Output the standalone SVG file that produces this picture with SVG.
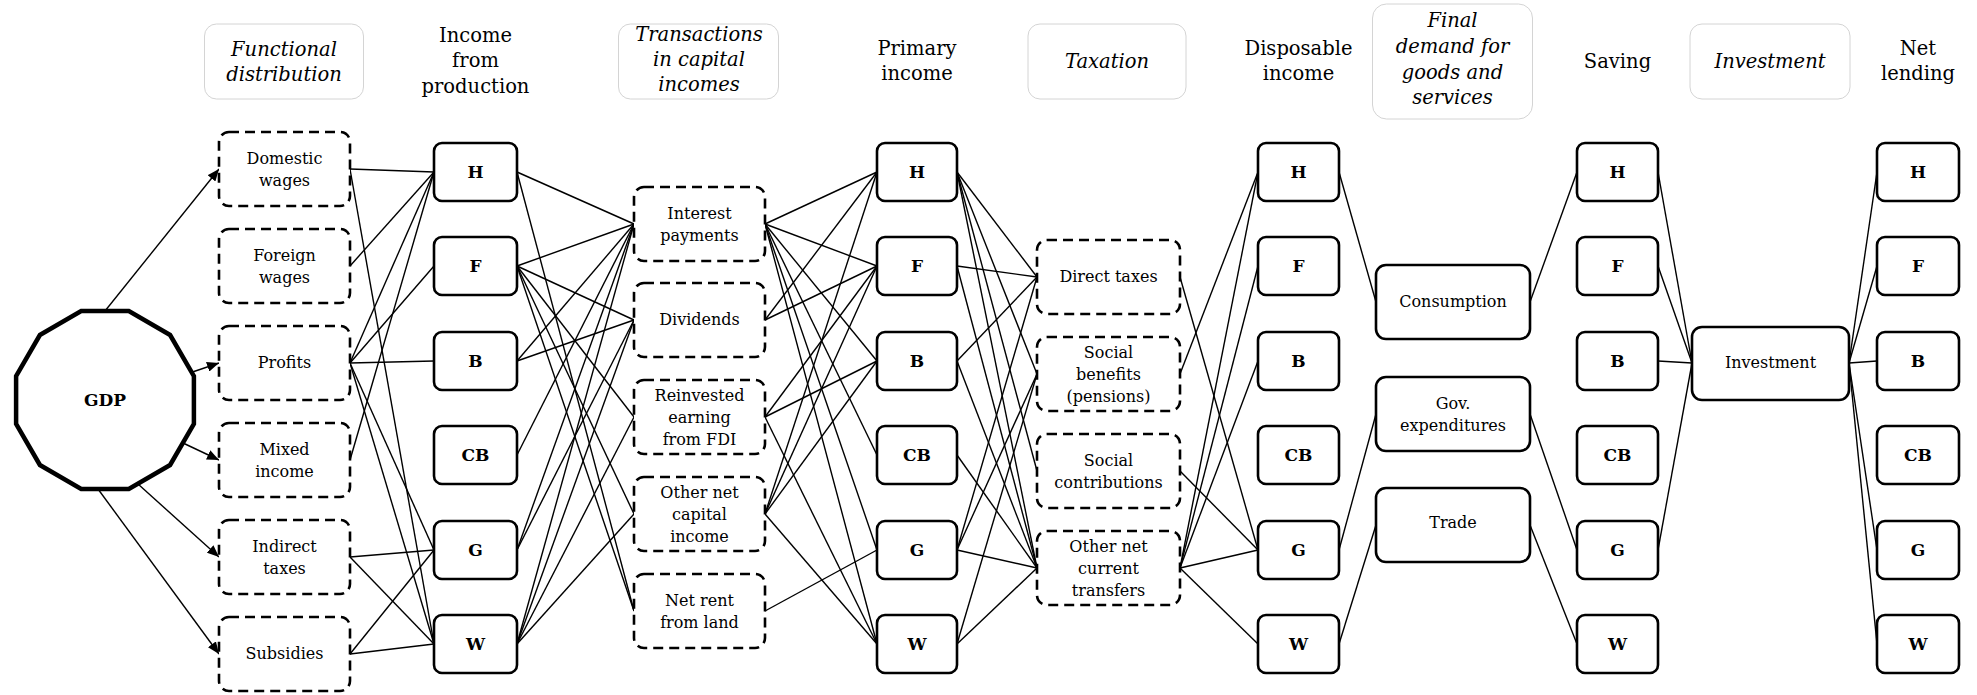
<svg xmlns="http://www.w3.org/2000/svg" width="1977" height="695" viewBox="0 0 1977 695" font-family="DejaVu Serif, serif">
<defs>
<marker id="arr" markerUnits="userSpaceOnUse" markerWidth="12" markerHeight="10" refX="12" refY="5" orient="auto">
<path d="M0,0 L12,5 L0,10 z" fill="#000"/>
</marker>
<style>
text{font-family:'DejaVu Serif','Liberation Serif',serif;fill:#000;text-anchor:middle}
.hd{font-size:19.5px}
.hi{font-size:19.5px;font-style:italic}
.lb{font-size:16px}
.lt{font-size:17px;font-weight:bold}
.hbox{fill:#fff;stroke:#d4d4d4;stroke-width:1}
.sol{fill:#fff;stroke:#000;stroke-width:2.6}
.dsh{fill:#fff;stroke:#000;stroke-width:2.6;stroke-dasharray:10 6}
#connectors line{stroke:#000;stroke-width:1.4}
</style>
</defs>
<rect width="1977" height="695" fill="#fff"/>

<!-- headers -->
<g id="hdr-functional"><rect class="hbox" x="204.5" y="24" width="159" height="75" rx="12"/><text class="hi" x="284" y="56">Functional</text><text class="hi" x="284" y="81">distribution</text></g>
<g id="hdr-income"><text class="hd" x="475.5" y="42">Income</text><text class="hd" x="475.5" y="67">from</text><text class="hd" x="475.5" y="93">production</text></g>
<g id="hdr-transactions"><rect class="hbox" x="618.5" y="24" width="160" height="75" rx="12"/><text class="hi" x="699" y="41">Transactions</text><text class="hi" x="699" y="66">in capital</text><text class="hi" x="699" y="91">incomes</text></g>
<g id="hdr-primary"><text class="hd" x="917" y="55">Primary</text><text class="hd" x="917" y="80">income</text></g>
<g id="hdr-taxation"><rect class="hbox" x="1028" y="24" width="158" height="75" rx="12"/><text class="hi" x="1107" y="68">Taxation</text></g>
<g id="hdr-disposable"><text class="hd" x="1298.5" y="55">Disposable</text><text class="hd" x="1298.5" y="80">income</text></g>
<g id="hdr-final"><rect class="hbox" x="1372.5" y="4" width="160" height="115" rx="14"/><text class="hi" x="1452.5" y="27">Final</text><text class="hi" x="1452.5" y="53">demand for</text><text class="hi" x="1452.5" y="79">goods and</text><text class="hi" x="1452.5" y="104">services</text></g>
<g id="hdr-saving"><text class="hd" x="1617.5" y="68">Saving</text></g>
<g id="hdr-investment"><rect class="hbox" x="1690" y="24" width="160" height="75" rx="12"/><text class="hi" x="1770" y="68">Investment</text></g>
<g id="hdr-netlending"><text class="hd" x="1918" y="55">Net</text><text class="hd" x="1918" y="80">lending</text></g>

<g id="connectors">
<!-- GDP arrows -->
<line x1="105" y1="311" x2="219" y2="169" marker-end="url(#arr)"/>
<line x1="192.5" y1="372" x2="219" y2="363" marker-end="url(#arr)"/>
<line x1="183" y1="443" x2="219" y2="460" marker-end="url(#arr)"/>
<line x1="138" y1="484" x2="219" y2="557" marker-end="url(#arr)"/>
<line x1="98" y1="489" x2="219" y2="654" marker-end="url(#arr)"/>
<!-- C1 -> C2 -->
<line x1="350" y1="169" x2="434" y2="172"/>
<line x1="350" y1="169" x2="434" y2="644"/>
<line x1="350" y1="266" x2="434" y2="172"/>
<line x1="350" y1="363" x2="434" y2="172"/>
<line x1="350" y1="363" x2="434" y2="266"/>
<line x1="350" y1="363" x2="434" y2="361"/>
<line x1="350" y1="363" x2="434" y2="550"/>
<line x1="350" y1="363" x2="434" y2="644"/>
<line x1="350" y1="460" x2="434" y2="172"/>
<line x1="350" y1="557" x2="434" y2="550"/>
<line x1="350" y1="557" x2="434" y2="644"/>
<line x1="350" y1="654" x2="434" y2="550"/>
<line x1="350" y1="654" x2="434" y2="644"/>
<!-- C2 -> C3 -->
<line x1="517" y1="172" x2="634" y2="224"/>
<line x1="517" y1="172" x2="634" y2="611"/>
<line x1="517" y1="266" x2="634" y2="224"/>
<line x1="517" y1="266" x2="634" y2="320"/>
<line x1="517" y1="266" x2="634" y2="417"/>
<line x1="517" y1="266" x2="634" y2="514"/>
<line x1="517" y1="266" x2="634" y2="611"/>
<line x1="517" y1="361" x2="634" y2="224"/>
<line x1="517" y1="361" x2="634" y2="320"/>
<line x1="517" y1="455" x2="634" y2="224"/>
<line x1="517" y1="550" x2="634" y2="224"/>
<line x1="517" y1="550" x2="634" y2="320"/>
<line x1="517" y1="644" x2="634" y2="224"/>
<line x1="517" y1="644" x2="634" y2="320"/>
<line x1="517" y1="644" x2="634" y2="417"/>
<line x1="517" y1="644" x2="634" y2="514"/>
<!-- C3 -> C4 -->
<line x1="765" y1="224" x2="877" y2="172"/>
<line x1="765" y1="224" x2="877" y2="266"/>
<line x1="765" y1="224" x2="877" y2="361"/>
<line x1="765" y1="224" x2="877" y2="455"/>
<line x1="765" y1="224" x2="877" y2="550"/>
<line x1="765" y1="224" x2="877" y2="644"/>
<line x1="765" y1="320" x2="877" y2="172"/>
<line x1="765" y1="320" x2="877" y2="266"/>
<line x1="765" y1="417" x2="877" y2="266"/>
<line x1="765" y1="417" x2="877" y2="361"/>
<line x1="765" y1="417" x2="877" y2="644"/>
<line x1="765" y1="514" x2="877" y2="172"/>
<line x1="765" y1="514" x2="877" y2="266"/>
<line x1="765" y1="514" x2="877" y2="361"/>
<line x1="765" y1="514" x2="877" y2="644"/>
<line x1="765" y1="611" x2="877" y2="550"/>
<!-- C4 -> C5 -->
<line x1="957" y1="172" x2="1037" y2="277"/>
<line x1="957" y1="172" x2="1037" y2="374"/>
<line x1="957" y1="172" x2="1037" y2="471"/>
<line x1="957" y1="172" x2="1037" y2="568"/>
<line x1="957" y1="266" x2="1037" y2="277"/>
<line x1="957" y1="266" x2="1037" y2="568"/>
<line x1="957" y1="361" x2="1037" y2="277"/>
<line x1="957" y1="361" x2="1037" y2="568"/>
<line x1="957" y1="455" x2="1037" y2="568"/>
<line x1="957" y1="550" x2="1037" y2="277"/>
<line x1="957" y1="550" x2="1037" y2="374"/>
<line x1="957" y1="550" x2="1037" y2="568"/>
<line x1="957" y1="644" x2="1037" y2="374"/>
<line x1="957" y1="644" x2="1037" y2="568"/>
<!-- C5 -> C6 -->
<line x1="1180" y1="277" x2="1258" y2="550"/>
<line x1="1180" y1="374" x2="1258" y2="172"/>
<line x1="1180" y1="471" x2="1258" y2="550"/>
<line x1="1180" y1="568" x2="1258" y2="172"/>
<line x1="1180" y1="568" x2="1258" y2="266"/>
<line x1="1180" y1="568" x2="1258" y2="361"/>
<line x1="1180" y1="568" x2="1258" y2="550"/>
<line x1="1180" y1="568" x2="1258" y2="644"/>
<!-- C6 -> C7 -->
<line x1="1339" y1="172" x2="1376" y2="302"/>
<line x1="1339" y1="550" x2="1376" y2="414"/>
<line x1="1339" y1="644" x2="1376" y2="525"/>
<!-- C7 -> C8 -->
<line x1="1530" y1="302" x2="1577" y2="172"/>
<line x1="1530" y1="414" x2="1577" y2="550"/>
<line x1="1530" y1="525" x2="1577" y2="644"/>
<!-- C8 -> C9 -->
<line x1="1658" y1="172" x2="1692" y2="363"/>
<line x1="1658" y1="266" x2="1692" y2="363"/>
<line x1="1658" y1="361" x2="1692" y2="363"/>
<line x1="1658" y1="550" x2="1692" y2="363"/>
<!-- C9 -> C10 -->
<line x1="1849" y1="363" x2="1877" y2="172"/>
<line x1="1849" y1="363" x2="1877" y2="266"/>
<line x1="1849" y1="363" x2="1877" y2="361"/>
<line x1="1849" y1="363" x2="1877" y2="550"/>
<line x1="1849" y1="363" x2="1877" y2="644"/>
</g>

<!-- GDP -->
<g id="gdp"><polygon points="193.9,376.2 170.1,335 128.8,311.1 81.2,311.1 39.9,335 16.1,376.2 16.1,423.8 39.9,465 81.2,488.9 128.8,488.9 170.1,465 193.9,423.8" fill="#fff" stroke="#000" stroke-width="4.5"/><text class="lt" x="105" y="406">GDP</text></g>

<!-- Functional distribution -->
<g id="f-domestic"><rect class="dsh" x="219" y="132" width="131" height="74" rx="10"/><text class="lb" x="284.5" y="164">Domestic</text><text class="lb" x="284.5" y="186">wages</text></g>
<g id="f-foreign"><rect class="dsh" x="219" y="229" width="131" height="74" rx="10"/><text class="lb" x="284.5" y="261">Foreign</text><text class="lb" x="284.5" y="283">wages</text></g>
<g id="f-profits"><rect class="dsh" x="219" y="326" width="131" height="74" rx="10"/><text class="lb" x="284.5" y="368">Profits</text></g>
<g id="f-mixed"><rect class="dsh" x="219" y="423" width="131" height="74" rx="10"/><text class="lb" x="284.5" y="455">Mixed</text><text class="lb" x="284.5" y="477">income</text></g>
<g id="f-indirect"><rect class="dsh" x="219" y="520" width="131" height="74" rx="10"/><text class="lb" x="284.5" y="552">Indirect</text><text class="lb" x="284.5" y="574">taxes</text></g>
<g id="f-subsidies"><rect class="dsh" x="219" y="617" width="131" height="74" rx="10"/><text class="lb" x="284.5" y="659">Subsidies</text></g>

<!-- Income from production -->
<g id="p-H"><rect class="sol" x="434" y="143" width="83" height="58" rx="8"/><text class="lt" x="475.5" y="178">H</text></g>
<g id="p-F"><rect class="sol" x="434" y="237" width="83" height="58" rx="8"/><text class="lt" x="475.5" y="272">F</text></g>
<g id="p-B"><rect class="sol" x="434" y="332" width="83" height="58" rx="8"/><text class="lt" x="475.5" y="367">B</text></g>
<g id="p-CB"><rect class="sol" x="434" y="426" width="83" height="58" rx="8"/><text class="lt" x="475.5" y="461">CB</text></g>
<g id="p-G"><rect class="sol" x="434" y="521" width="83" height="58" rx="8"/><text class="lt" x="475.5" y="556">G</text></g>
<g id="p-W"><rect class="sol" x="434" y="615" width="83" height="58" rx="8"/><text class="lt" x="475.5" y="650">W</text></g>

<!-- Transactions -->
<g id="t-interest"><rect class="dsh" x="634" y="187" width="131" height="74" rx="10"/><text class="lb" x="699.5" y="219">Interest</text><text class="lb" x="699.5" y="241">payments</text></g>
<g id="t-dividends"><rect class="dsh" x="634" y="283" width="131" height="74" rx="10"/><text class="lb" x="699.5" y="325">Dividends</text></g>
<g id="t-reinvested"><rect class="dsh" x="634" y="380" width="131" height="74" rx="10"/><text class="lb" x="699.5" y="401">Reinvested</text><text class="lb" x="699.5" y="423">earning</text><text class="lb" x="699.5" y="445">from FDI</text></g>
<g id="t-othercap"><rect class="dsh" x="634" y="477" width="131" height="74" rx="10"/><text class="lb" x="699.5" y="498">Other net</text><text class="lb" x="699.5" y="520">capital</text><text class="lb" x="699.5" y="542">income</text></g>
<g id="t-rent"><rect class="dsh" x="634" y="574" width="131" height="74" rx="10"/><text class="lb" x="699.5" y="606">Net rent</text><text class="lb" x="699.5" y="628">from land</text></g>

<!-- Primary income -->
<g id="q-H"><rect class="sol" x="877" y="143" width="80" height="58" rx="8"/><text class="lt" x="917" y="178">H</text></g>
<g id="q-F"><rect class="sol" x="877" y="237" width="80" height="58" rx="8"/><text class="lt" x="917" y="272">F</text></g>
<g id="q-B"><rect class="sol" x="877" y="332" width="80" height="58" rx="8"/><text class="lt" x="917" y="367">B</text></g>
<g id="q-CB"><rect class="sol" x="877" y="426" width="80" height="58" rx="8"/><text class="lt" x="917" y="461">CB</text></g>
<g id="q-G"><rect class="sol" x="877" y="521" width="80" height="58" rx="8"/><text class="lt" x="917" y="556">G</text></g>
<g id="q-W"><rect class="sol" x="877" y="615" width="80" height="58" rx="8"/><text class="lt" x="917" y="650">W</text></g>

<!-- Taxation -->
<g id="x-direct"><rect class="dsh" x="1037" y="240" width="143" height="74" rx="10"/><text class="lb" x="1108.5" y="282">Direct taxes</text></g>
<g id="x-benefits"><rect class="dsh" x="1037" y="337" width="143" height="74" rx="10"/><text class="lb" x="1108.5" y="358">Social</text><text class="lb" x="1108.5" y="380">benefits</text><text class="lb" x="1108.5" y="402">(pensions)</text></g>
<g id="x-contrib"><rect class="dsh" x="1037" y="434" width="143" height="74" rx="10"/><text class="lb" x="1108.5" y="466">Social</text><text class="lb" x="1108.5" y="488">contributions</text></g>
<g id="x-transfers"><rect class="dsh" x="1037" y="531" width="143" height="74" rx="10"/><text class="lb" x="1108.5" y="552">Other net</text><text class="lb" x="1108.5" y="574">current</text><text class="lb" x="1108.5" y="596">transfers</text></g>

<!-- Disposable income -->
<g id="d-H"><rect class="sol" x="1258" y="143" width="81" height="58" rx="8"/><text class="lt" x="1298.5" y="178">H</text></g>
<g id="d-F"><rect class="sol" x="1258" y="237" width="81" height="58" rx="8"/><text class="lt" x="1298.5" y="272">F</text></g>
<g id="d-B"><rect class="sol" x="1258" y="332" width="81" height="58" rx="8"/><text class="lt" x="1298.5" y="367">B</text></g>
<g id="d-CB"><rect class="sol" x="1258" y="426" width="81" height="58" rx="8"/><text class="lt" x="1298.5" y="461">CB</text></g>
<g id="d-G"><rect class="sol" x="1258" y="521" width="81" height="58" rx="8"/><text class="lt" x="1298.5" y="556">G</text></g>
<g id="d-W"><rect class="sol" x="1258" y="615" width="81" height="58" rx="8"/><text class="lt" x="1298.5" y="650">W</text></g>

<!-- Final demand -->
<g id="fd-consumption"><rect class="sol" x="1376" y="265" width="154" height="74" rx="10"/><text class="lb" x="1453" y="307">Consumption</text></g>
<g id="fd-gov"><rect class="sol" x="1376" y="377" width="154" height="74" rx="10"/><text class="lb" x="1453" y="409">Gov.</text><text class="lb" x="1453" y="431">expenditures</text></g>
<g id="fd-trade"><rect class="sol" x="1376" y="488" width="154" height="74" rx="10"/><text class="lb" x="1453" y="528">Trade</text></g>

<!-- Saving -->
<g id="s-H"><rect class="sol" x="1577" y="143" width="81" height="58" rx="8"/><text class="lt" x="1617.5" y="178">H</text></g>
<g id="s-F"><rect class="sol" x="1577" y="237" width="81" height="58" rx="8"/><text class="lt" x="1617.5" y="272">F</text></g>
<g id="s-B"><rect class="sol" x="1577" y="332" width="81" height="58" rx="8"/><text class="lt" x="1617.5" y="367">B</text></g>
<g id="s-CB"><rect class="sol" x="1577" y="426" width="81" height="58" rx="8"/><text class="lt" x="1617.5" y="461">CB</text></g>
<g id="s-G"><rect class="sol" x="1577" y="521" width="81" height="58" rx="8"/><text class="lt" x="1617.5" y="556">G</text></g>
<g id="s-W"><rect class="sol" x="1577" y="615" width="81" height="58" rx="8"/><text class="lt" x="1617.5" y="650">W</text></g>

<!-- Investment -->
<g id="investment"><rect class="sol" x="1692" y="327" width="157" height="73" rx="10"/><text class="lb" x="1770.5" y="368">Investment</text></g>

<!-- Net lending -->
<g id="n-H"><rect class="sol" x="1877" y="143" width="82" height="58" rx="8"/><text class="lt" x="1918" y="178">H</text></g>
<g id="n-F"><rect class="sol" x="1877" y="237" width="82" height="58" rx="8"/><text class="lt" x="1918" y="272">F</text></g>
<g id="n-B"><rect class="sol" x="1877" y="332" width="82" height="58" rx="8"/><text class="lt" x="1918" y="367">B</text></g>
<g id="n-CB"><rect class="sol" x="1877" y="426" width="82" height="58" rx="8"/><text class="lt" x="1918" y="461">CB</text></g>
<g id="n-G"><rect class="sol" x="1877" y="521" width="82" height="58" rx="8"/><text class="lt" x="1918" y="556">G</text></g>
<g id="n-W"><rect class="sol" x="1877" y="615" width="82" height="58" rx="8"/><text class="lt" x="1918" y="650">W</text></g>
</svg>
